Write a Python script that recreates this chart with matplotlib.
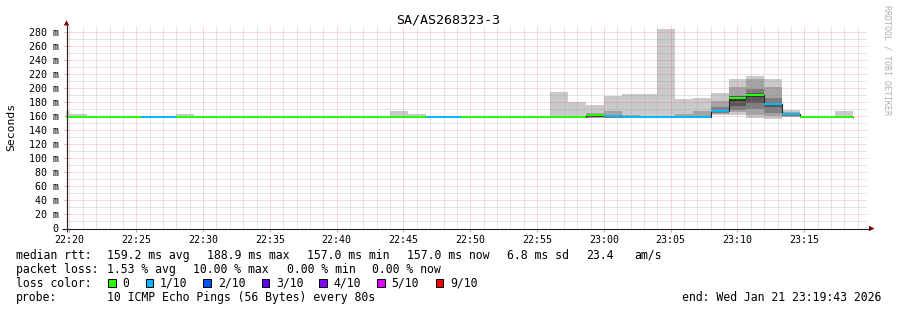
import numpy as np
import pandas as pd
import matplotlib
matplotlib.use('Agg')
import matplotlib.pyplot as plt
import matplotlib.dates as mdates
from matplotlib.ticker import MultipleLocator
from matplotlib.patches import Rectangle, Polygon

plt.rcParams['font.family'] = ['DejaVu Sans Mono']

W, H, DPI = 897, 310, 100

# ---------------- data ----------------
title = 'SA/AS268323-3'
y_label = 'Seconds'
first_step = '2026-01-21 22:18:40'
step_seconds = 80
view_start = '2026-01-21 22:19:43'
view_end = '2026-01-21 23:19:43'
y_max = 288
y_ticks = [0, 20, 40, 60, 80, 100, 120, 140, 160, 180, 200, 220, 240, 260, 280]
y_tick_labels = ['0', '20 m', '40 m', '60 m', '80 m', '100 m', '120 m', '140 m',
                 '160 m', '180 m', '200 m', '220 m', '240 m', '260 m', '280 m']

# sorted ping RTTs (ms) per 80 s step; lost pings are simply missing (10 sent)
pings = [
    [156.9, 157.1, 157.2, 157.3, 157.4, 157.6, 157.8, 158.1, 158.6, 167.6],
    [157.0, 157.1, 157.3, 157.4, 157.5, 157.5, 157.7, 158.0, 158.5, 163.4],
    [156.9, 157.1, 157.2, 157.3, 157.4, 157.6, 157.8, 158.0, 158.3, 158.8],
    [157.0, 157.1, 157.3, 157.4, 157.5, 157.5, 157.7, 157.9, 158.2, 158.6],
    [156.9, 157.0, 157.2, 157.3, 157.4, 157.6, 157.7, 158.0, 158.4, 159.0],
    [156.9, 157.0, 157.2, 157.4, 157.5, 157.7, 157.9, 158.2, 158.7],
    [156.8, 157.0, 157.1, 157.3, 157.5, 157.6, 157.8, 158.1, 158.6],
    [157.0, 157.1, 157.2, 157.4, 157.5, 157.5, 157.8, 158.1, 158.7, 163.4],
    [156.9, 157.1, 157.3, 157.4, 157.4, 157.6, 157.9, 158.2, 158.6, 160.6],
    [156.9, 157.1, 157.2, 157.3, 157.4, 157.6, 157.8, 158.0, 158.3, 158.8],
    [157.0, 157.1, 157.3, 157.4, 157.5, 157.5, 157.7, 157.9, 158.2, 158.6],
    [156.9, 157.0, 157.2, 157.3, 157.4, 157.6, 157.7, 158.0, 158.4, 159.0],
    [156.9, 157.1, 157.2, 157.3, 157.5, 157.5, 157.8, 158.0, 158.3, 158.7],
    [157.0, 157.1, 157.3, 157.4, 157.4, 157.6, 157.7, 158.1, 158.5, 158.9],
    [156.9, 157.0, 157.2, 157.3, 157.5, 157.5, 157.7, 157.9, 158.3, 158.8],
    [156.9, 157.1, 157.2, 157.4, 157.4, 157.6, 157.8, 158.0, 158.4, 158.9],
    [157.0, 157.1, 157.2, 157.3, 157.5, 157.5, 157.7, 157.9, 158.2, 158.7],
    [156.9, 157.0, 157.2, 157.3, 157.4, 157.6, 157.8, 158.0, 158.5, 159.0],
    [156.9, 157.1, 157.3, 157.4, 157.5, 157.5, 157.7, 158.0, 158.4, 158.9],
    [157.0, 157.1, 157.2, 157.4, 157.5, 157.5, 157.8, 158.2, 158.9, 166.3],
    [156.9, 157.1, 157.2, 157.3, 157.4, 157.6, 157.8, 158.1, 158.7, 162.2],
    [156.8, 157.0, 157.1, 157.3, 157.5, 157.6, 157.8, 158.1, 158.6],
    [156.9, 157.0, 157.2, 157.4, 157.5, 157.6, 157.9, 158.2, 158.7],
    [156.9, 157.1, 157.2, 157.3, 157.4, 157.6, 157.8, 158.0, 158.4, 158.9],
    [157.0, 157.1, 157.3, 157.4, 157.5, 157.5, 157.7, 158.0, 158.3, 158.8],
    [156.9, 157.0, 157.2, 157.3, 157.4, 157.6, 157.8, 158.0, 158.5, 159.0],
    [156.9, 157.1, 157.2, 157.4, 157.5, 157.5, 157.7, 157.9, 158.3, 158.7],
    [157.0, 157.1, 157.3, 157.4, 157.4, 157.6, 157.8, 158.1, 158.6, 159.1],
    [157.0, 157.2, 157.3, 157.4, 157.5, 157.5, 157.8, 158.2, 158.9, 194.7],
    [157.0, 157.1, 157.3, 157.4, 157.5, 157.6, 157.8, 158.2, 159.0, 179.5],
    [157.0, 157.6, 158.0, 158.5, 159.0, 159.4, 159.8, 160.5, 163.8, 176.2],
    [156.9, 157.3, 157.7, 158.0, 158.3, 158.7, 160.6, 166.3, 188.0],
    [156.8, 157.0, 157.1, 157.2, 157.3, 157.5, 157.8, 161.0, 191.4],
    [156.8, 156.9, 157.1, 157.2, 157.3, 157.4, 157.7, 158.4, 191.4],
    [156.9, 157.0, 157.1, 157.2, 157.3, 157.5, 157.7, 158.1, 284.0],
    [156.9, 157.0, 157.1, 157.2, 157.3, 157.5, 157.9, 163.0, 184.5],
    [156.9, 157.1, 157.3, 157.4, 157.5, 157.8, 160.5, 167.0, 185.0],
    [161.0, 162.5, 164.0, 165.0, 165.6, 168.5, 172.0, 180.8, 192.0],
    [162.0, 165.0, 168.5, 174.6, 181.0, 187.2, 187.8, 188.5, 201.0, 212.0],
    [157.0, 162.0, 170.0, 178.0, 187.6, 190.2, 193.0, 198.0, 212.0, 216.7],
    [156.0, 160.0, 164.7, 172.0, 175.5, 178.0, 185.0, 201.0, 212.0],
    [158.0, 159.0, 160.0, 160.8, 161.3, 162.5, 164.0, 166.0, 168.5],
    [156.9, 157.1, 157.2, 157.3, 157.4, 157.6, 157.8, 158.0, 158.4, 158.9],
    [157.0, 157.1, 157.3, 157.4, 157.5, 157.5, 157.7, 157.9, 158.3, 158.8],
    [156.5, 156.7, 156.8, 156.9, 157.0, 157.0, 157.2, 157.4, 157.9, 167.7],
]
pings_sent = 10

smoke_colors = ['#cacaca', '#a4a4a4', '#7e7e7e', '#585858', '#323232']
loss_levels = [0, 1, 2, 3, 4, 5, 9]
loss_labels = ['0', '1/10', '2/10', '3/10', '4/10', '5/10', '9/10']
loss_colors = ['#26ff00', '#00b8ff', '#0059ff', '#5e00ff', '#7e00ff', '#dd00ff', '#ff0000']

legend_rtt = ['median rtt:', '159.2 ms avg', '188.9 ms max', '157.0 ms min',
              '157.0 ms now', '6.8 ms sd', '23.4', 'am/s']
legend_loss = ['packet loss:', '1.53 % avg', '10.00 % max', '0.00 % min', '0.00 % now']
legend_color_title = 'loss color:'
legend_probe = ['probe:', '10 ICMP Echo Pings (56 Bytes) every 80s']
end_text = 'end: Wed Jan 21 23:19:43 2026'
watermark = 'RRDTOOL / TOBI OETIKER'

# ---------------- figure ----------------
fig = plt.figure(figsize=(W / DPI, H / DPI), dpi=DPI, facecolor='white')
x_left, x_right = 65.7, 867.3
y_bottom = 228.5
y_top = y_bottom - y_max * (197.0 / 280.0)
ax = fig.add_axes([x_left / W, (H - y_bottom) / H,
                   (x_right - x_left) / W, (y_bottom - y_top) / H])
ax.set_facecolor('white')

t0 = pd.Timestamp(first_step)
step = pd.Timedelta(seconds=step_seconds)
starts = [t0 + i * step for i in range(len(pings))]
xs = mdates.date2num(starts)
wd = step_seconds / 86400.0

# smoke bands
for j, col in enumerate(smoke_colors):
    bx, bb, bh = [], [], []
    for x, p in zip(xs, pings):
        n = len(p)
        if j < n - 1 - j:
            bx.append(x)
            bb.append(p[j])
            bh.append(p[n - 1 - j] - p[j])
    ax.bar(bx, bh, bottom=bb, width=wd, align='edge', color=col,
           linewidth=0, antialiased=False, zorder=1)

medians = [float(np.median(p)) for p in pings]
losses = [pings_sent - len(p) for p in pings]
swidth = y_max / (y_bottom - y_top)

# thin dark median step line (visible at transitions)
ex = list(xs) + [xs[-1] + wd]
ey = [m + swidth for m in medians] + [medians[-1] + swidth]
ax.step(ex, ey, where='post', color='#202020', lw=0.75, zorder=2)

# median band coloured by loss
for lvl, col in zip(loss_levels, loss_colors):
    sel = [i for i, l in enumerate(losses) if l == lvl]
    if not sel:
        continue
    ax.bar([xs[i] for i in sel], [2 * swidth] * len(sel),
           bottom=[medians[i] for i in sel], width=wd, align='edge',
           color=col, linewidth=0, antialiased=False, zorder=3)

ax.set_xlim(mdates.date2num(pd.Timestamp(view_start)),
            mdates.date2num(pd.Timestamp(view_end)))
ax.set_ylim(0, y_max)

ax.xaxis.set_major_locator(mdates.MinuteLocator(byminute=range(0, 60, 5)))
ax.xaxis.set_minor_locator(mdates.MinuteLocator())
ax.xaxis.set_major_formatter(mdates.DateFormatter('%H:%M'))
ax.set_yticks(y_ticks)
ax.set_yticklabels(y_tick_labels)
ax.yaxis.set_minor_locator(MultipleLocator(10))

dots = (0, (1, 1))
ax.grid(True, which='major', color='#e06060', alpha=0.45, lw=0.72, linestyle=dots)
ax.grid(True, which='minor', color='#909090', alpha=0.45, lw=0.72, linestyle=dots)
for gl in ax.get_xgridlines() + ax.get_ygridlines():
    gl.set_zorder(4)

for s in ax.spines.values():
    s.set_visible(False)
ax.tick_params(axis='x', which='major', length=2.5, width=0.72, color='#eb9696',
               labelsize=7.2, pad=2.5)
ax.tick_params(axis='y', which='major', length=1.5, width=0.72, color='#eb9696',
               labelsize=7.2, pad=3.5)
ax.tick_params(which='minor', length=0)

# ---------------- overlay (pixel coords) ----------------
ov = fig.add_axes([0, 0, 1, 1], facecolor='none')
ov.set_xlim(0, W)
ov.set_ylim(H, 0)
ov.axis('off')

axis_col = '#212121'
arrow_col = '#800000'
ov.plot([66.5, 66.5], [232, 25], color=axis_col, lw=0.8, solid_capstyle='butt')
ov.plot([62, 869.5], [228.5, 228.5], color=axis_col, lw=0.8, solid_capstyle='butt')
ov.add_patch(Polygon([[63.8, 25.5], [69.2, 25.5], [66.5, 20.3]], closed=True,
                     facecolor=arrow_col, edgecolor='none'))
ov.add_patch(Polygon([[869, 225.8], [869, 231.2], [874.5, 228.5]], closed=True,
                     facecolor=arrow_col, edgecolor='none'))

ov.text(448, 23.5, title, ha='center', va='baseline', fontsize=9.6, color='black')
ov.text(11.5, 127, y_label, ha='center', va='center', rotation=90, fontsize=8.2)
ov.text(887, 5, watermark, ha='center', va='top', rotation=270, fontsize=6,
        color='#b0b0b0')

fs = 8.3
base = [259, 272.8, 286.7, 300.6]
rtt_x = [16, 107, 207, 307, 407, 507, 586, 634]
for x, s in zip(rtt_x, legend_rtt):
    ov.text(x, base[0], s, ha='left', va='baseline', fontsize=fs)
loss_x = [16, 107.3, 193.3, 286.7, 372.3]
for x, s in zip(loss_x, legend_loss):
    ov.text(x, base[1], s, ha='left', va='baseline', fontsize=fs)
ov.text(16, base[2], legend_color_title, ha='left', va='baseline', fontsize=fs)
box_x = [108.3, 145.7, 203.3, 261.7, 319.3, 377.3, 435.7]
for bxp, col, lab in zip(box_x, loss_colors, loss_labels):
    ov.add_patch(Rectangle((bxp, 279.3), 7.4, 7.4, facecolor=col,
                           edgecolor='black', lw=0.72))
    ov.text(bxp + 14.4, base[2], lab, ha='left', va='baseline', fontsize=fs)
ov.text(16, base[3], legend_probe[0], ha='left', va='baseline', fontsize=fs)
ov.text(107.3, base[3], legend_probe[1], ha='left', va='baseline', fontsize=fs)
ov.text(881, base[3], end_text, ha='right', va='baseline', fontsize=fs)

fig.savefig('out.png', dpi=DPI, facecolor='white')
